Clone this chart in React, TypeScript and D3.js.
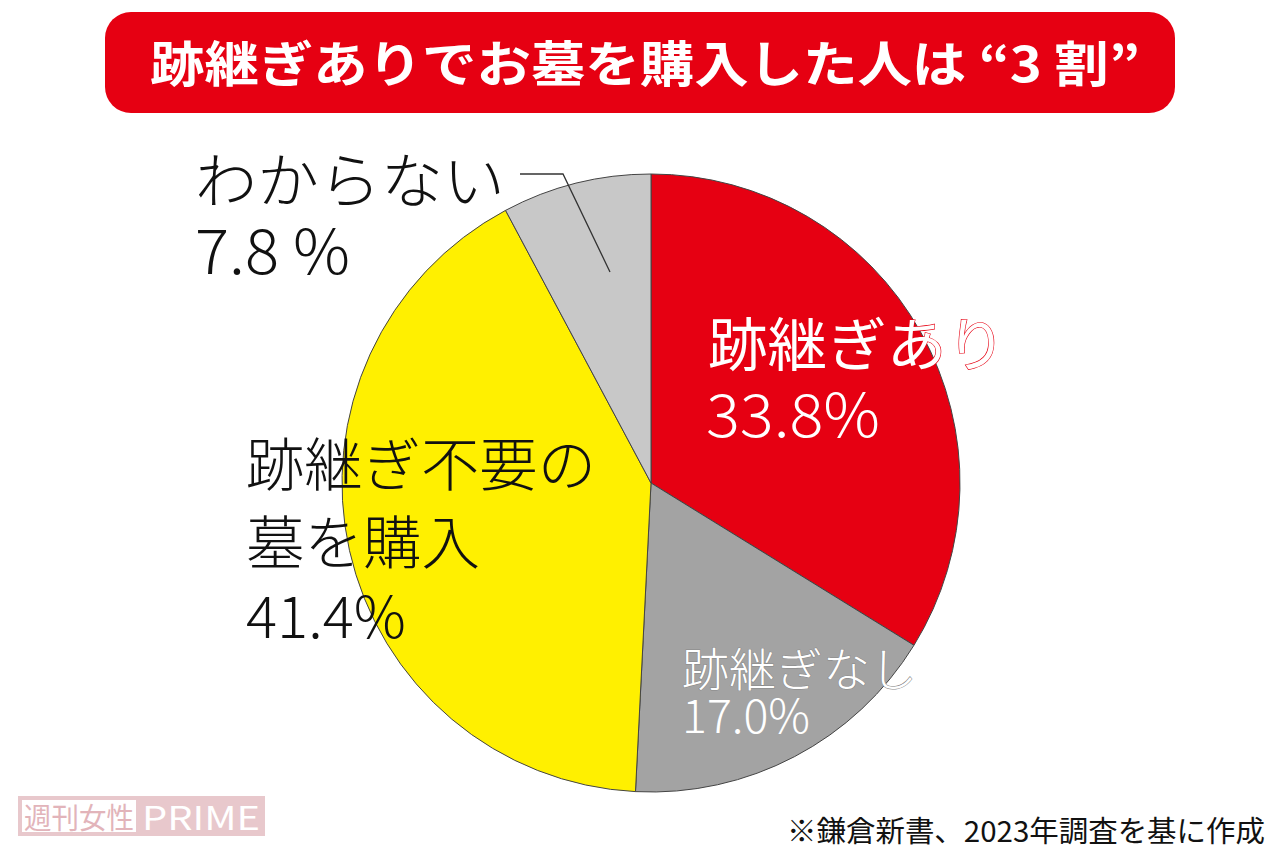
import React from "react";
import * as d3 from "d3";

const categories = ["跡継ぎあり", "跡継ぎなし", "跡継ぎ不要の墓を購入", "わからない"];
const values = [33.8, 17.0, 41.4, 7.8];
const colors = ["#e60012", "#a3a3a3", "#fff000", "#c8c8c8"];
const title = "跡継ぎありでお墓を購入した人は “3 割”";
const source = "※鎌倉新書、2023年調査を基に作成";

const W = 1280, H = 854;
const cx = 651, cy = 483, R = 309;
const font = "'Noto Sans CJK JP', 'Noto Sans', sans-serif";

export default function App() {
  const pie = d3.pie<number>().sort(null).value((d) => d)(values);
  const arc = d3.arc<d3.PieArcDatum<number>>().innerRadius(0).outerRadius(R);
  return (
    <svg width={W} height={H} style={{ position: "absolute", left: 0, top: 0, background: "#fff" }} fontFamily={font}>
      <rect x={0} y={0} width={W} height={H} fill="#fff" />
      <rect x={105} y={12} width={1070} height={101} rx={26} fill="#e60012" />
      <text x={645} y={82} textAnchor="middle" fill="#fff" fontSize={49} fontWeight={700} textLength={990} lengthAdjust="spacingAndGlyphs">{title}</text>
      <g transform={`translate(${cx},${cy})`}>
        {pie.map((p, i) => (
          <path key={i} d={arc(p) || ""} fill={colors[i]} stroke="#444" strokeWidth={1} />
        ))}
      </g>
      <polyline points="520,174 563,174 610,272" fill="none" stroke="#333" strokeWidth={1.3} />
      {/* わからない */}
      <text x={195} y={203} fontSize={60} fill="#111" fontWeight={300} textLength={310} lengthAdjust="spacingAndGlyphs">{categories[3]}</text>
      <text x={195} y={274} fontSize={62} fill="#111" fontWeight={300} textLength={155} lengthAdjust="spacingAndGlyphs">{`${values[3].toFixed(1)} %`}</text>
      {/* 跡継ぎあり */}
      <text x={708} y={366} fontSize={58} fill="#fff" stroke="#e60012" strokeWidth={1.2} paintOrder="stroke" fontWeight={400} textLength={298} lengthAdjust="spacingAndGlyphs">{categories[0]}</text>
      <text x={706} y={437} fontSize={60} fill="#fff" fontWeight={300} textLength={174} lengthAdjust="spacingAndGlyphs">{`${values[0].toFixed(1)}%`}</text>
      {/* 跡継ぎなし */}
      <text x={682} y={686} fontSize={46} fill="#fff" stroke="#888" strokeWidth={1} paintOrder="stroke" fontWeight={300} textLength={235} lengthAdjust="spacingAndGlyphs">{categories[1]}</text>
      <text x={682} y={733} fontSize={46} fill="#fff" fontWeight={300} textLength={128} lengthAdjust="spacingAndGlyphs">{`${values[1].toFixed(1)}%`}</text>
      {/* 跡継ぎ不要の墓を購入 */}
      <text x={246} y={486} fontSize={58} fill="#111" fontWeight={300} textLength={350} lengthAdjust="spacingAndGlyphs">{categories[2].slice(0, 6)}</text>
      <text x={246} y={564} fontSize={58} fill="#111" fontWeight={300} textLength={234} lengthAdjust="spacingAndGlyphs">{categories[2].slice(6)}</text>
      <text x={246} y={638} fontSize={58} fill="#111" fontWeight={300} textLength={160} lengthAdjust="spacingAndGlyphs">{`${values[2].toFixed(1)}%`}</text>
      {/* watermark */}
      <rect x={18} y={796} width={247} height={40} fill="#e8c8cc" />
      <rect x={22} y={800} width={114} height={32} fill="#fff" />
      <text x={24} y={829} fontSize={29} fill="#e2b4ba" textLength={110} lengthAdjust="spacingAndGlyphs">週刊女性</text>
      <text x={142} y={830} fontSize={33} fill="#fff" textLength={118} lengthAdjust="spacingAndGlyphs">PRIME</text>
      <text x={1265} y={842} textAnchor="end" fontSize={29} fill="#111" textLength={478} lengthAdjust="spacingAndGlyphs">{source}</text>
    </svg>
  );
}
